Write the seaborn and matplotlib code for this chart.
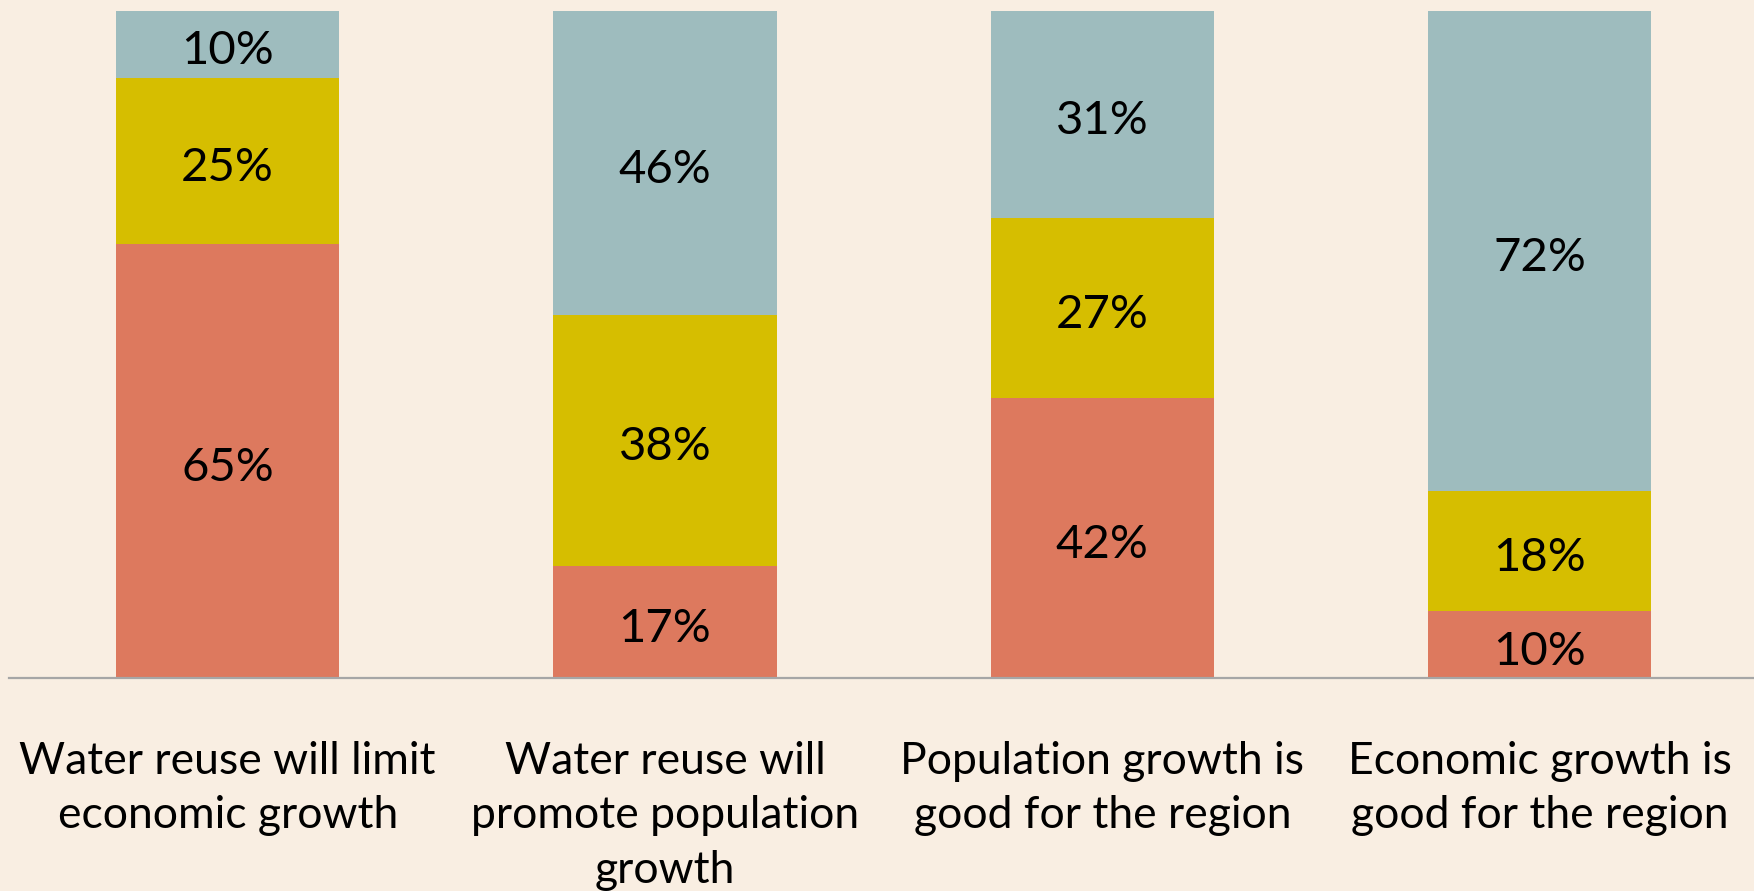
import matplotlib
matplotlib.use("Agg")
import matplotlib.pyplot as plt
import seaborn as sns
import numpy as np
import pandas as pd

categories = [
    "Water reuse will limit\neconomic growth",
    "Water reuse will\npromote population\ngrowth",
    "Population growth is\ngood for the region",
    "Economic growth is\ngood for the region",
]
disagree = [65, 17, 42, 10]
neutral = [25, 38, 27, 18]
agree = [10, 46, 31, 72]

series_names = ["Disagree", "Neutral", "Agree"]
series_values = [disagree, neutral, agree]
colors = ["#DD795E", "#D6BE00", "#9EBCBE"]
bg = "#F9EEE2"

sns.set_theme(style="white")
plt.rcParams["font.family"] = ["Lato", "DejaVu Sans"]

fig = plt.figure(figsize=(17.54, 8.91), dpi=100, facecolor=bg)
ax = fig.add_axes([9 / 1754, 0.239, 1 - 9 / 1754, 0.9877 - 0.239])
ax.set_facecolor(bg)

totals = np.sum(np.array(series_values), axis=0)
bottom = np.zeros(len(categories))
for name, vals, col in zip(series_names, series_values, colors):
    frac = np.array(vals) / totals
    df = pd.DataFrame({"cat": categories, "val": frac})
    sns.barplot(data=df, x="cat", y="val", order=categories, color=col,
                width=0.51, bottom=bottom.copy(), ax=ax, saturation=1,
                linewidth=0, edgecolor="none")
    cont = ax.containers[-1]
    anns = ax.bar_label(cont, labels=[f"{v}%" for v in vals], label_type="center",
                        fontsize=34, color="black")
    for a in anns:
        a.xyann = (0, -5)
    bottom = bottom + frac

ax.set_ylim(0, 1)
ax.set_xlim(-0.5, 3.49)
ax.set_xlabel("")
ax.set_ylabel("")
ax.set_yticks([])
for s in ["top", "left", "right"]:
    ax.spines[s].set_visible(False)
ax.spines["bottom"].set_color("#A6A6A6")
ax.spines["bottom"].set_linewidth(1.6)
ax.tick_params(axis="x", length=0, pad=45, labelsize=32, labelcolor="black")
for t in ax.get_xticklabels():
    t.set_ha("center")
    t.set_multialignment("center")
    t.set_linespacing(1.42)

fig.savefig("out.png", dpi=100, facecolor=bg)
